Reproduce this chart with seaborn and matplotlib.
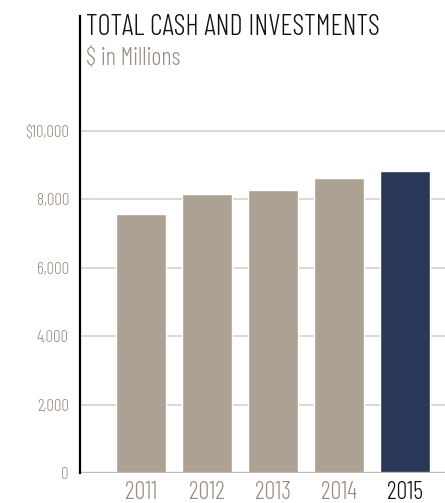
import matplotlib
matplotlib.use("Agg")
import matplotlib.pyplot as plt
import seaborn as sns
import pandas as pd

# Total cash and investments, $ in millions
years = ["2011", "2012", "2013", "2014", "2015"]
cash_investments = [7565, 8150, 8265, 8615, 8820]
y_ticks = [0, 2000, 4000, 6000, 8000, 10000]
y_tick_labels = ["0", "2,000", "4,000", "6,000", "8,000", "$10,000"]

TAUPE = "#aca192"
NAVY = "#293858"
LABEL = "#9a8e80"
GRID = "#d8d1ca"
BASE = "#c4bbb0"
FONT = ["Barlow Condensed", "DejaVu Sans"]

sns.set_theme(style="white")
plt.rcParams["font.family"] = FONT
plt.rcParams["font.weight"] = 300

df = pd.DataFrame({"year": years, "value": cash_investments})
palette = {y: (NAVY if y == years[-1] else TAUPE) for y in years}

fig = plt.figure(figsize=(4.45, 5.03), dpi=100)
ax = fig.add_axes([80 / 445, 30 / 503, 1 - 80 / 445, 457 / 503])

sns.barplot(data=df, x="year", y="value", hue="year", palette=palette,
            order=years, hue_order=years, width=0.76, saturation=1,
            legend=False, ax=ax, zorder=3)

ax.set_xlim(-0.924, 4.606)
ax.set_ylim(0, 13350)
ax.set_xlabel("")
ax.set_ylabel("")

for v in y_ticks[1:]:
    ax.axhline(v, color=GRID, lw=1.2, zorder=1)
ax.axhline(0, color=BASE, lw=2.4, zorder=4)

ax.set_yticks(y_ticks)
ax.set_yticklabels(y_tick_labels)
ax.tick_params(axis="y", length=0, pad=8, labelsize=12, labelcolor=LABEL)
ax.tick_params(axis="x", length=0, pad=6, labelsize=17.5, labelcolor=LABEL)
for lbl in ax.get_xticklabels() + ax.get_yticklabels():
    lbl.set_fontweight(300)
for lbl in ax.get_xticklabels():
    if lbl.get_text() == years[-1]:
        lbl.set_color("#111111")

for side in ["top", "right", "bottom"]:
    ax.spines[side].set_visible(False)
ax.spines["left"].set_color("black")
ax.spines["left"].set_linewidth(1.6)
ax.spines["left"].set_zorder(5)
ax.grid(False)

fig.text(86 / 445, 1 - 35 / 503, "TOTAL CASH AND INVESTMENTS",
         fontsize=20.5, fontweight=300, color="#111111", va="baseline", ha="left")
fig.text(86 / 445, 1 - 65 / 503, "$ in Millions",
         fontsize=17.5, fontweight=300, color=LABEL, va="baseline", ha="left")

fig.savefig("out.png", dpi=100)
